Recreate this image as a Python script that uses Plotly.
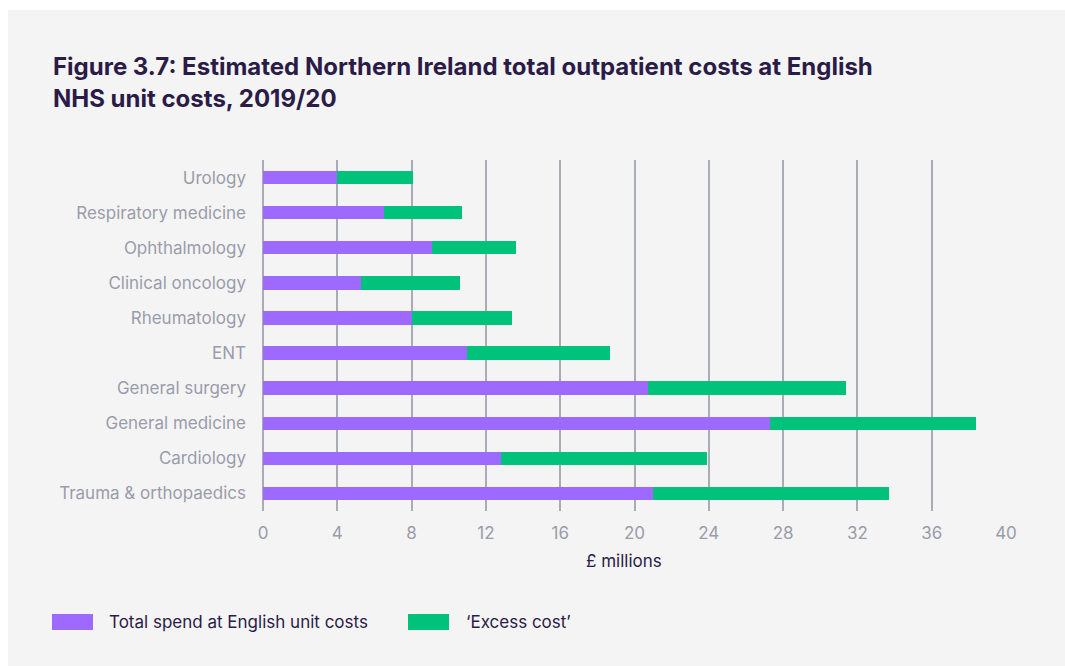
import plotly.graph_objects as go

categories = ["Urology", "Respiratory medicine", "Ophthalmology", "Clinical oncology",
              "Rheumatology", "ENT", "General surgery", "General medicine",
              "Cardiology", "Trauma & orthopaedics"]
english_cost = [4.0, 6.5, 9.1, 5.3, 8.0, 11.0, 20.7, 27.3, 12.8, 21.0]
excess_cost = [4.1, 4.2, 4.5, 5.3, 5.4, 7.7, 10.7, 11.1, 11.1, 12.7]
x_ticks = [0, 4, 8, 12, 16, 20, 24, 28, 32, 36, 40]
series_names = ["Total spend at English unit costs", "\u2018Excess cost\u2019"]

PURPLE = "#9e69ff"
GREEN = "#00c27a"
DARK = "#2a1b47"
GREY_TXT = "#9a9cab"
GRID = "#a9abb5"
BG = "#f4f4f4"
FONT = "Inter"

W, H = 1065, 666
L, R, T, B = 263, 59, 160, 155
PW, PH = W - L - R, H - T - B

def px(x):
    return (x - L) / PW

def py(y):
    return (H - B - y) / PH

fig = go.Figure()
fig.add_trace(go.Bar(y=categories, x=english_cost, orientation="h", name=series_names[0],
                     marker=dict(color=PURPLE, line=dict(width=0)), width=0.38))
fig.add_trace(go.Bar(y=categories, x=excess_cost, orientation="h", name=series_names[1],
                     marker=dict(color=GREEN, line=dict(width=0)), width=0.38))

shapes = [
    dict(type="rect", xref="paper", yref="paper", x0=px(8), x1=px(1066), y0=py(10), y1=py(667),
         fillcolor=BG, line=dict(width=0), layer="below"),
    dict(type="rect", xref="paper", yref="paper", x0=px(52), x1=px(93), y0=py(614), y1=py(630),
         fillcolor=PURPLE, line=dict(width=0)),
    dict(type="rect", xref="paper", yref="paper", x0=px(408), x1=px(449), y0=py(614), y1=py(630),
         fillcolor=GREEN, line=dict(width=0)),
]

annotations = [
    dict(text="<b>Figure 3.7: Estimated Northern Ireland total outpatient costs at English</b>",
         xref="paper", yref="paper", x=px(51), y=py(66), xanchor="left", yanchor="middle",
         showarrow=False, font=dict(family=FONT, size=24, color=DARK)),
    dict(text="<b>NHS unit costs, 2019/20</b>",
         xref="paper", yref="paper", x=px(51), y=py(98), xanchor="left", yanchor="middle",
         showarrow=False, font=dict(family=FONT, size=24, color=DARK)),
    dict(text="\u00a3 millions", xref="paper", yref="paper", x=px(624), y=py(561),
         xanchor="center", yanchor="middle", showarrow=False,
         font=dict(family=FONT, size=17, color=DARK)),
    dict(text=series_names[0], xref="paper", yref="paper", x=px(107), y=py(622),
         xanchor="left", yanchor="middle", showarrow=False,
         font=dict(family=FONT, size=17, color=DARK)),
    dict(text=series_names[1], xref="paper", yref="paper", x=px(464), y=py(622),
         xanchor="left", yanchor="middle", showarrow=False,
         font=dict(family=FONT, size=17, color=DARK)),
]

fig.update_layout(
    width=W, height=H, barmode="stack", showlegend=False,
    margin=dict(l=L, r=R, t=T, b=B, pad=0),
    paper_bgcolor="white", plot_bgcolor="rgba(0,0,0,0)",
    font=dict(family=FONT, size=17, color=GREY_TXT),
    shapes=shapes, annotations=annotations,
    xaxis=dict(range=[0, 40], tickvals=x_ticks, showgrid=True, gridcolor=GRID, gridwidth=1.5,
               zeroline=True, zerolinecolor=GRID, zerolinewidth=1.5,
               showline=False, ticks="", ticklabelstandoff=10,
               tickfont=dict(family=FONT, size=17, color=GREY_TXT), fixedrange=True),
    yaxis=dict(autorange="reversed", showgrid=False, zeroline=False, showline=False, ticks="",
               ticklabelstandoff=16, tickfont=dict(family=FONT, size=17, color=GREY_TXT)),
)

fig.write_html("out.html")
